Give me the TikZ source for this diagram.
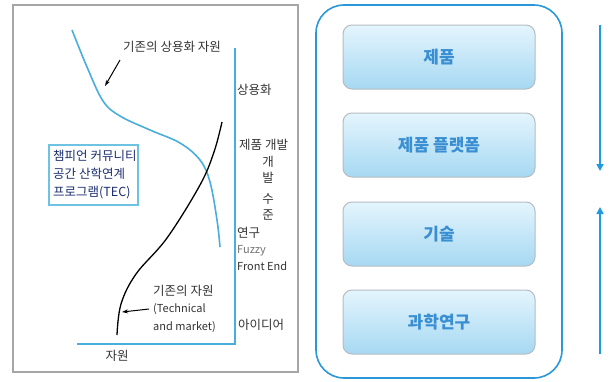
\documentclass[tikz,border=0pt]{standalone}
\usepackage{fontspec}
\setmainfont{Noto Sans CJK KR}
\usetikzlibrary{arrows.meta}
\definecolor{curveblue}{HTML}{4AAEDC}
\definecolor{outerblue}{HTML}{2A98D8}
\definecolor{arrowblue}{HTML}{1E9BE0}
\definecolor{boxtop}{HTML}{E4F5FD}
\definecolor{boxbot}{HTML}{A6D8F2}
\definecolor{boxedge}{HTML}{B4BCC4}
\definecolor{boxtext}{HTML}{3A8ED2}
\definecolor{txt}{HTML}{333333}
\definecolor{tecblue}{HTML}{6EC2E2}
\definecolor{tectext}{HTML}{1C2E6E}
\tikzset{
  lbl/.style={font=\fontsize{12.5}{14}\selectfont, text=txt, inner sep=0pt},
  lat/.style={font=\fontsize{11}{12}\selectfont, text=txt, inner sep=0pt},
  stagebox/.style={draw=boxedge, line width=1pt, rounded corners=9pt,
    top color=boxtop, bottom color=boxbot, minimum width=192pt, minimum height=64pt,
    text=boxtext, font=\fontsize{17}{19}\selectfont\bfseries},
  axis/.style={draw=curveblue, line width=1.6pt},
  flow/.style={draw=arrowblue, line width=1.6pt, -{Triangle[length=7pt,width=7pt]}}
}
\begin{document}
\begin{tikzpicture}[x=1pt,y=-1pt]
\useasboundingbox (0,0) rectangle (613,381);
% left panel frame
\draw[draw=gray!70, line width=1.5pt] (13,5) rectangle (298,372);
% axes
\coordinate (ytop) at (235,48);
\coordinate (origin) at (235,344);
\coordinate (xleft) at (77,344);
\draw[axis] (ytop) -- (origin) -- (xleft);
% blue descending curve
\draw[curveblue, line width=1.6pt] plot[smooth, tension=0.6] coordinates
  {(72,30) (87,67) (103,101) (120,116) (150,130) (180,143) (200,160) (210,182) (217,220) (220,247)};
% black ascending curve
\draw[black, line width=1.3pt] plot[smooth, tension=0.6] coordinates
  {(222,122) (214,152) (200,185) (167,238) (136,274) (121,304) (117,335)};
% labels
\node[lbl] (commres) at (172,47) {기존의 상용화 자원};
\coordinate (a1s) at (120,60);
\coordinate (a1e) at (105,86);
\draw[black, line width=1pt, -{Stealth[length=6pt,width=4pt]}] (a1s) -- (a1e);
\node[lbl, anchor=west] (comm) at (237,90) {상용화};
\node[lbl, anchor=west] (prod) at (239,145) {제품 개발};
\node[lbl, align=center, anchor=north] (level) at (268,156) {개\\[2pt]발\\[7pt]수\\[2pt]준};
\node[lbl, anchor=west] (res) at (237,233) {연구};
\node[lat, anchor=west, text=gray!90!black] (fuzzy) at (237,251) {Fuzzy};
\node[lat, anchor=west] (ffe) at (237,266) {Front End};
\node[lbl, anchor=west] (idea) at (238,325) {아이디어};
\node[lbl] (resx) at (117,356) {자원};
\node[lbl, anchor=west] (exres) at (153,291) {기존의 자원};
\node[lat, anchor=west] (tech) at (153,309) {(Technical};
\node[lat, anchor=west] (mkt) at (153,327) {and market)};
\coordinate (a2e) at (122,312);
\draw[black, line width=1pt, -{Stealth[length=6pt,width=4pt]}] (tech.west) ++(-4,0) -- (a2e);
% TEC box
\draw[tecblue, line width=1.2pt] (49,145) rectangle (138,205);
\node[lbl, anchor=north west, align=left, text=tectext, font=\fontsize{12.5}{18}\selectfont] (tec) at (53,150)
  {챔피언 커뮤니티\\공간 산학연계\\프로그램(TEC)};
% right panel
\draw[outerblue, line width=1.6pt, rounded corners=28pt] (316,5) rectangle (562,378);
\node[stagebox] (s1) at (439,57) {제품};
\node[stagebox] (s2) at (439,145) {제품 플랫폼};
\node[stagebox] (s3) at (439,234) {기술};
\node[stagebox] (s4) at (439,322) {과학연구};
\coordinate (d1) at (600,25);
\coordinate (d2) at (600,171);
\coordinate (u1) at (600,354);
\coordinate (u2) at (600,207);
\draw[flow] (d1) -- (d2);
\draw[flow] (u1) -- (u2);
\end{tikzpicture}
\end{document}
